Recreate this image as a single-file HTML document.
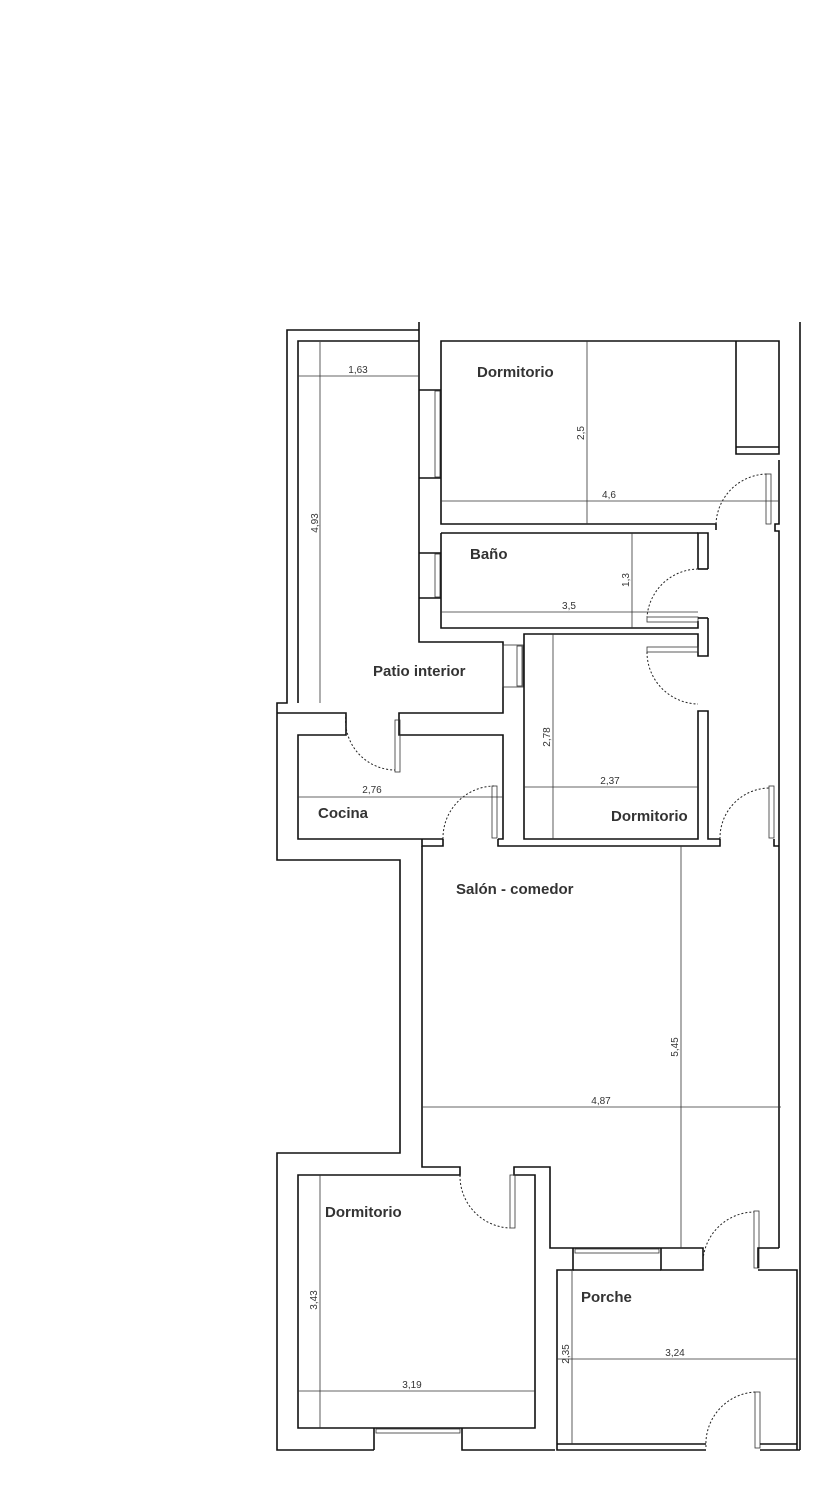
<!DOCTYPE html>
<html><head><meta charset="utf-8"><style>
html,body{margin:0;padding:0;background:#fff;}
svg{display:block}
.w{fill:none;stroke:#111;stroke-width:1.6}
.t{fill:none;stroke:#333;stroke-width:0.8}
.d{fill:none;stroke:#222;stroke-width:1;stroke-dasharray:2 2}
.L{font-family:"Liberation Sans",sans-serif;font-weight:bold;font-size:15px;fill:#333}
.n{font-family:"Liberation Sans",sans-serif;font-size:10px;fill:#333}
</style></head><body>
<svg width="833" height="1500" viewBox="0 0 833 1500">
<!-- exterior right -->
<line class="w" x1="800" y1="322" x2="800" y2="1450"/>
<!-- patio exterior -->
<polyline class="w" points="419,322 419,642 503,642 503,713 399,713 399,735 503,735 503,796"/>
<polyline class="w" points="419,330 287,330 287,703 277,703 277,860 400,860 400,1153 277,1153 277,1450 374,1450"/>
<polyline class="w" points="419,341 298,341 298,703"/>
<polyline class="w" points="277,713 346,713 346,735 298,735 298,839 443,839"/>
<!-- window wall block left of dorm/bano -->
<polyline class="w" points="419,390 441,390"/><polyline class="w" points="419,478 441,478"/>
<polyline class="w" points="419,553 441,553"/><polyline class="w" points="419,598 441,598"/>
<rect class="t" x="435" y="391" width="5" height="86"/><rect class="t" x="435" y="554" width="5" height="43"/>
<rect class="t" x="503" y="645" width="20" height="42"/><rect class="t" x="517" y="646" width="5" height="40"/>
<!-- dorm 1 -->
<polyline class="w" points="716,530 716,524 441,524 441,341 779,341 779,454 736,454 736,341"/>
<line class="w" x1="736" y1="447" x2="779" y2="447"/>
<polyline class="w" points="779,460 779,524 775,524 775,531 779,531 779,1248"/>
<rect class="t" x="766" y="474" width="5" height="50"/>
<path class="d" d="M716,524 A52,52 0 0 1 768,474"/>
<!-- bano -->
<polyline class="w" points="708,569 708,533 698,533 698,569"/>
<polyline class="w" points="441,533 698,533"/>
<polyline class="w" points="441,533 441,628 698,628 698,621"/>
<rect class="t" x="647" y="617" width="51" height="5"/>
<path class="d" d="M698,569 A52,52 0 0 0 647,617"/>
<line class="w" x1="698" y1="569" x2="708" y2="569"/>
<!-- dorm 2 -->
<polyline class="w" points="708,618 708,656 698,656 698,634 524,634 524,839 698,839 698,711 708,711 708,839 720,839"/>
<polyline class="w" points="698,618 708,618"/>
<rect class="t" x="647" y="647" width="51" height="5"/>
<path class="d" d="M647,652 A52,52 0 0 0 698,704"/>
<polyline class="w" points="503,796 503,839 498,839"/>
<rect class="t" x="492" y="786" width="5" height="52"/>
<path class="d" d="M443,839 A52,52 0 0 1 494,786"/>
<rect class="t" x="769" y="786" width="5" height="52"/>
<path class="d" d="M720,839 A50,50 0 0 1 769,788"/>
<!-- door leaf patio -> cocina -->
<rect class="t" x="395" y="720" width="5" height="52"/>
<path class="d" d="M346,713 A50,50 0 0 0 395,770"/>
<!-- salon -->
<polyline class="w" points="422,839 422,846 443,846 443,839"/>
<polyline class="w" points="498,839 498,846 720,846 720,839"/>
<polyline class="w" points="774,839 774,846 779,846"/>
<polyline class="w" points="422,846 422,1167 460,1167 460,1175 298,1175 298,1428 535,1428 535,1175 514,1175 514,1167 550,1167 550,1248 573,1248"/>
<rect class="t" x="510" y="1175" width="5" height="53"/>
<path class="d" d="M460,1175 A52,52 0 0 0 510,1228"/>
<!-- bottom window dorm 3 -->
<polyline class="w" points="374,1428 374,1450"/><polyline class="w" points="462,1428 462,1450 555,1450"/>
<rect class="t" x="376" y="1429" width="84" height="4"/>
<!-- porche -->
<polyline class="w" points="573,1248 661,1248 661,1270 703,1270 703,1248 661,1248"/>
<polyline class="w" points="573,1248 573,1270 557,1270 557,1450 706,1450"/>
<line class="w" x1="573" y1="1270" x2="661" y2="1270"/>
<rect class="t" x="575" y="1249" width="84" height="4"/>
<rect class="t" x="754" y="1211" width="5" height="57"/>
<path class="d" d="M703,1268 A52,52 0 0 1 754,1212"/>
<polyline class="w" points="758,1268 758,1248 779,1248"/>
<polyline class="w" points="758,1270 797,1270 797,1450"/>
<line class="w" x1="557" y1="1444" x2="706" y2="1444"/>
<rect class="t" x="755" y="1392" width="5" height="56"/>
<path class="d" d="M706,1447 A52,52 0 0 1 755,1392"/>
<polyline class="w" points="760,1444 797,1444"/><line class="w" x1="760" y1="1450" x2="800" y2="1450"/>
<!-- dimensions -->
<g class="t">
<line x1="298" y1="376" x2="419" y2="376"/><line x1="320" y1="342" x2="320" y2="703"/>
<line x1="587" y1="341" x2="587" y2="524"/><line x1="441" y1="501" x2="779" y2="501"/>
<line x1="632" y1="533" x2="632" y2="628"/><line x1="441" y1="612" x2="698" y2="612"/>
<line x1="553" y1="634" x2="553" y2="839"/><line x1="524" y1="787" x2="698" y2="787"/>
<line x1="298" y1="797" x2="503" y2="797"/>
<line x1="681" y1="846" x2="681" y2="1248"/><line x1="422" y1="1107" x2="781" y2="1107"/>
<line x1="320" y1="1175" x2="320" y2="1428"/><line x1="298" y1="1391" x2="535" y2="1391"/>
<line x1="572" y1="1270" x2="572" y2="1444"/><line x1="557" y1="1359" x2="797" y2="1359"/>
</g>
<text class="n" x="358" y="373" text-anchor="middle">1,63</text>
<text class="n" x="609" y="498" text-anchor="middle">4,6</text>
<text class="n" x="569" y="609" text-anchor="middle">3,5</text>
<text class="n" x="610" y="784" text-anchor="middle">2,37</text>
<text class="n" x="372" y="793" text-anchor="middle">2,76</text>
<text class="n" x="601" y="1104" text-anchor="middle">4,87</text>
<text class="n" x="412" y="1388" text-anchor="middle">3,19</text>
<text class="n" x="675" y="1356" text-anchor="middle">3,24</text>
<text class="n" transform="translate(318,523) rotate(-90)" text-anchor="middle">4,93</text>
<text class="n" transform="translate(584,433) rotate(-90)" text-anchor="middle">2,5</text>
<text class="n" transform="translate(629,580) rotate(-90)" text-anchor="middle">1,3</text>
<text class="n" transform="translate(550,737) rotate(-90)" text-anchor="middle">2,78</text>
<text class="n" transform="translate(678,1047) rotate(-90)" text-anchor="middle">5,45</text>
<text class="n" transform="translate(317,1300) rotate(-90)" text-anchor="middle">3,43</text>
<text class="n" transform="translate(569,1354) rotate(-90)" text-anchor="middle">2,35</text>
<text class="L" x="477" y="377">Dormitorio</text>
<text class="L" x="470" y="559">Baño</text>
<text class="L" x="373" y="676">Patio interior</text>
<text class="L" x="318" y="818">Cocina</text>
<text class="L" x="611" y="821">Dormitorio</text>
<text class="L" x="456" y="894">Salón - comedor</text>
<text class="L" x="325" y="1217">Dormitorio</text>
<text class="L" x="581" y="1302">Porche</text>
</svg>
</body></html>
